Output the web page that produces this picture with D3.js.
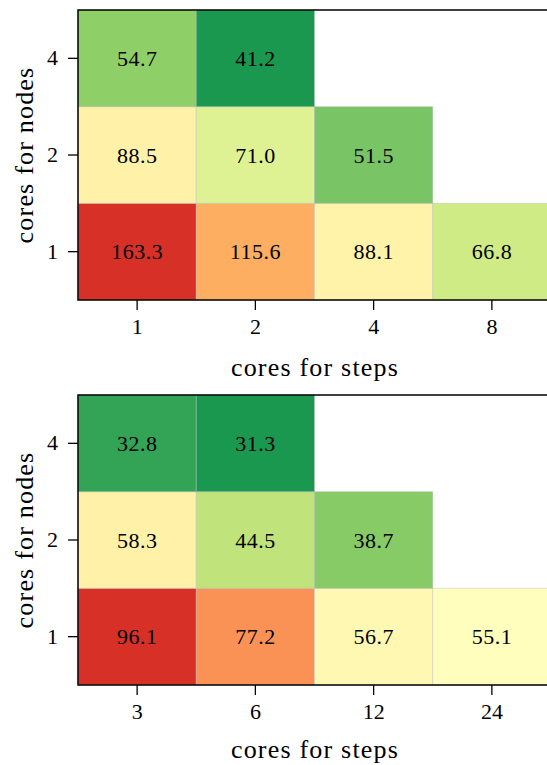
<!DOCTYPE html>
<html>
<head>
<meta charset="utf-8">
<script src="https://cdn.jsdelivr.net/npm/d3@7"></script>
<style>
  html, body { margin: 0; padding: 0; background: #fff; }
  svg { display: block; }
  text { font-family: "Liberation Serif", "Times New Roman", serif; fill: #000; }
</style>
</head>
<body>
<svg id="chart" width="547" height="765"></svg>
<script>
// ---------- data ----------
const nodeCores = ["1", "2", "4"];              // y categories (bottom to top)
const stepCoresTop = ["1", "2", "4", "8"];       // x categories, top panel
const stepCoresBottom = ["3", "6", "12", "24"];  // x categories, bottom panel

// values[row][col]; row follows nodeCores, col follows step cores; null = no cell
const valuesTop = [
  [163.3, 115.6, 88.1, 66.8],
  [88.5, 71.0, 51.5, null],
  [54.7, 41.2, null, null]
];
const valuesBottom = [
  [96.1, 77.2, 56.7, 55.1],
  [58.3, 44.5, 38.7, null],
  [32.8, 31.3, null, null]
];

const xLabel = "cores for steps";
const yLabel = "cores for nodes";

// 9-class RdYlGn, reversed (high = red)
const rdylgn9 = ["#d73027","#f46d43","#fdae61","#fee08b","#ffffbf","#d9ef8b","#a6d96a","#66bd63","#1a9850"];

// ---------- layout ----------
const svg = d3.select("#chart");
const panelLeft = 78, panelRight = 551;
const panels = [
  { top: 10, bottom: 300, xcats: stepCoresTop, values: valuesTop, xlabY: 367 },
  { top: 395, bottom: 685, xcats: stepCoresBottom, values: valuesBottom, xlabY: 749 }
];

panels.forEach(p => {
  const g = svg.append("g");
  const x = d3.scaleBand().domain(p.xcats).range([panelLeft, panelRight]);
  const y = d3.scaleBand().domain(nodeCores).range([p.bottom, p.top]);

  const flat = [];
  p.values.forEach((row, i) => row.forEach((v, j) => {
    if (v !== null) flat.push({ r: nodeCores[i], c: p.xcats[j], v });
  }));
  const ext = d3.extent(flat, d => d.v);
  const norm = d3.scaleLog().domain(ext).range([0, 1]);
  const cmap = d3.scaleLinear()
    .domain(d3.range(9).map(i => i / 8))
    .range(rdylgn9.slice().reverse())
    .interpolate(d3.interpolateRgb);

  g.selectAll("rect.cell").data(flat).enter().append("rect")
    .attr("class", "cell")
    .attr("x", d => x(d.c))
    .attr("y", d => y(d.r))
    .attr("width", x.bandwidth())
    .attr("height", y.bandwidth())
    .attr("fill", d => cmap(norm(d.v)))
    .attr("stroke", "#b8b8b8")
    .attr("stroke-opacity", 0.4)
    .attr("stroke-width", 1);

  g.selectAll("text.val").data(flat).enter().append("text")
    .attr("class", "val")
    .attr("x", d => x(d.c) + x.bandwidth() / 2)
    .attr("y", d => y(d.r) + y.bandwidth() / 2)
    .attr("text-anchor", "middle")
    .attr("dominant-baseline", "central")
    .attr("font-size", 22)
    .attr("letter-spacing", 0.5)
    .text(d => d.v.toFixed(1));

  // frame (spines)
  g.append("rect")
    .attr("x", panelLeft).attr("y", p.top)
    .attr("width", panelRight - panelLeft).attr("height", p.bottom - p.top)
    .attr("fill", "none").attr("stroke", "#000").attr("stroke-width", 1.5);

  // axes
  const xAxis = d3.axisBottom(x).tickSize(10).tickPadding(8);
  const gx = g.append("g").attr("transform", `translate(0,${p.bottom})`).call(xAxis);
  gx.select(".domain").remove();
  gx.selectAll("line").attr("stroke", "#000").attr("stroke-width", 1.3);
  gx.selectAll("text").attr("font-size", 22).attr("font-family", "Liberation Serif").attr("fill", "#000");

  const yAxis = d3.axisLeft(y).tickSize(10).tickPadding(10);
  const gy = g.append("g").attr("transform", `translate(${panelLeft},0)`).call(yAxis);
  gy.select(".domain").remove();
  gy.selectAll("line").attr("stroke", "#000").attr("stroke-width", 1.3);
  gy.selectAll("text").attr("font-size", 22).attr("font-family", "Liberation Serif").attr("fill", "#000");

  g.append("text")
    .attr("x", 315).attr("y", p.xlabY)
    .attr("text-anchor", "middle").attr("dominant-baseline", "central")
    .attr("font-size", 26).attr("letter-spacing", 1.2)
    .text(xLabel);

  g.append("text")
    .attr("transform", `translate(24,${(p.top + p.bottom) / 2}) rotate(-90)`)
    .attr("text-anchor", "middle").attr("dominant-baseline", "central")
    .attr("font-size", 26).attr("letter-spacing", 1.2)
    .text(yLabel);
});
</script>
</body>
</html>
